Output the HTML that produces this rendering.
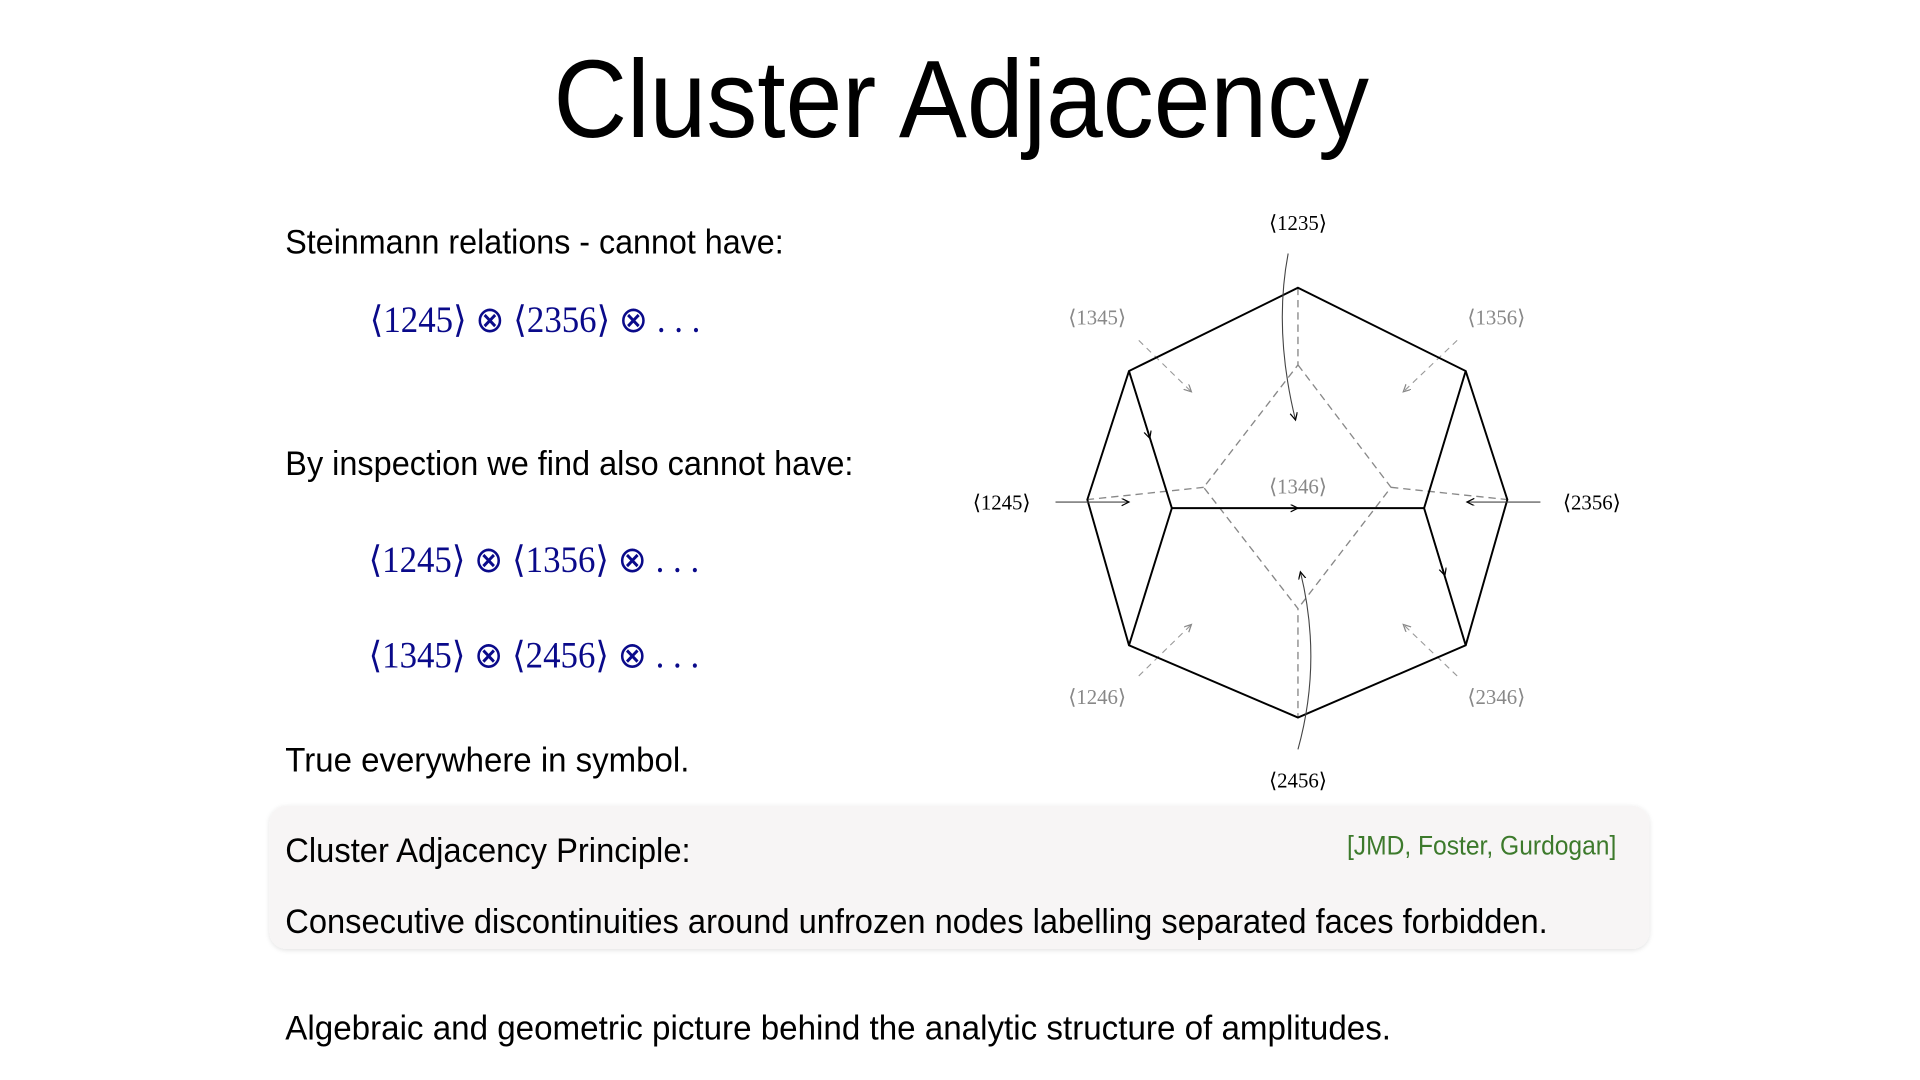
<!DOCTYPE html>
<html><head><meta charset="utf-8"><style>html,body{margin:0;padding:0;background:#fff;overflow:hidden}svg{display:block}</style></head>
<body>
<svg width="1920" height="1080" viewBox="0 0 1568 882" xmlns="http://www.w3.org/2000/svg">
<defs>
<marker id="ab" markerWidth="8" markerHeight="8" refX="6" refY="3" orient="auto" markerUnits="userSpaceOnUse"><path d="M0,0 L6,3 L0,6" fill="none" stroke="#000" stroke-width="1"/></marker>
<marker id="ag" markerWidth="8" markerHeight="8" refX="6" refY="3" orient="auto" markerUnits="userSpaceOnUse"><path d="M0,0 L6,3 L0,6" fill="none" stroke="#888" stroke-width="1"/></marker>
<filter id="sh" x="-5%" y="-20%" width="110%" height="140%"><feDropShadow dx="0" dy="1" stdDeviation="2" flood-color="#000" flood-opacity="0.12"/></filter>
</defs>
<rect width="1568" height="882" fill="#fff"/>
<g font-family="Liberation Sans, sans-serif" fill="#000">
<text x="452" y="112" font-size="90" textLength="666" lengthAdjust="spacingAndGlyphs">Cluster Adjacency</text>
<text x="233" y="207" font-size="28" textLength="407" lengthAdjust="spacingAndGlyphs">Steinmann relations - cannot have:</text>
<text x="233" y="388" font-size="28" textLength="464" lengthAdjust="spacingAndGlyphs">By inspection we find also cannot have:</text>
<text x="233" y="630" font-size="28" textLength="330" lengthAdjust="spacingAndGlyphs">True everywhere in symbol.</text>
</g>
<rect x="220" y="658" width="1127" height="117" rx="14" fill="#f7f5f5" filter="url(#sh)"/>
<g font-family="Liberation Sans, sans-serif" fill="#000">
<text x="233" y="704" font-size="28" textLength="331" lengthAdjust="spacingAndGlyphs">Cluster Adjacency Principle:</text>
<text x="1100" y="698" font-size="22" fill="#3d7a2c" textLength="220" lengthAdjust="spacingAndGlyphs">[JMD, Foster, Gurdogan]</text>
<text x="233" y="762" font-size="28" textLength="1031" lengthAdjust="spacingAndGlyphs">Consecutive discontinuities around unfrozen nodes labelling separated faces forbidden.</text>
<text x="233" y="849" font-size="28" textLength="903" lengthAdjust="spacingAndGlyphs">Algebraic and geometric picture behind the analytic structure of amplitudes.</text>
</g>
<g font-family="Liberation Serif, serif" fill="#0a0a8a" font-size="30">
<text x="302" y="271" textLength="270" lengthAdjust="spacingAndGlyphs">⟨1245⟩ ⊗ ⟨2356⟩ ⊗ . . .</text>
<text x="301" y="467" textLength="270" lengthAdjust="spacingAndGlyphs">⟨1245⟩ ⊗ ⟨1356⟩ ⊗ . . .</text>
<text x="301" y="545" textLength="270" lengthAdjust="spacingAndGlyphs">⟨1345⟩ ⊗ ⟨2456⟩ ⊗ . . .</text>
</g>
<!-- diagram -->
<g fill="none" stroke="#888" stroke-width="1.1" stroke-dasharray="6,4">
<path d="M1060,235 L1060,298 L983,398 L1060,497 L1060,586"/>
<path d="M1060,298 L1136,398 L1060,497"/>
<path d="M983,398 L888,408"/>
<path d="M1136,398 L1231,408"/>
</g>
<g fill="none" stroke="#999" stroke-width="0.9" stroke-dasharray="5,4">
<path d="M930,278 L973,320" marker-end="url(#ag)"/>
<path d="M1190,278 L1146,320" marker-end="url(#ag)"/>
<path d="M930,552 L973,510" marker-end="url(#ag)"/>
<path d="M1190,552 L1146,510" marker-end="url(#ag)"/>
</g>
<g fill="none" stroke="#000" stroke-width="1.6">
<path d="M1060,235 L1197,303 L1231,408 L1197,527 L1060,586 L922,527 L888,408 L922,303 Z"/>
<path d="M922,303 L957,415 L922,527"/>
<path d="M1197,303 L1163,415 L1197,527"/>
<path d="M957,415 L1163,415"/>
</g>
<g fill="none" stroke="#000" stroke-width="1">
<path d="M957,415 L1060,415" marker-end="url(#ab)"/>
<path d="M922,303 L939,358" marker-end="url(#ab)"/>
<path d="M1163,415 L1180,470" marker-end="url(#ab)"/>
</g>
<g fill="none" stroke="#444" stroke-width="0.9">
<path d="M1052,207 Q1040,270 1058,343" marker-end="url(#ab)"/>
<path d="M1060,612 Q1080,540 1062,467" marker-end="url(#ab)"/>
<path d="M862,410 L922,410" marker-end="url(#ab)"/>
<path d="M1258,410 L1198,410" marker-end="url(#ab)"/>
</g>
<g font-family="Liberation Serif, serif" font-size="17" text-anchor="middle">
<text x="1060" y="188" fill="#000">⟨1235⟩</text>
<text x="818" y="416" fill="#000">⟨1245⟩</text>
<text x="1300" y="416" fill="#000">⟨2356⟩</text>
<text x="1060" y="643" fill="#000">⟨2456⟩</text>
<text x="896" y="265" fill="#888">⟨1345⟩</text>
<text x="1222" y="265" fill="#888">⟨1356⟩</text>
<text x="1060" y="403" fill="#888">⟨1346⟩</text>
<text x="896" y="575" fill="#888">⟨1246⟩</text>
<text x="1222" y="575" fill="#888">⟨2346⟩</text>
</g>
</svg>
</body></html>
